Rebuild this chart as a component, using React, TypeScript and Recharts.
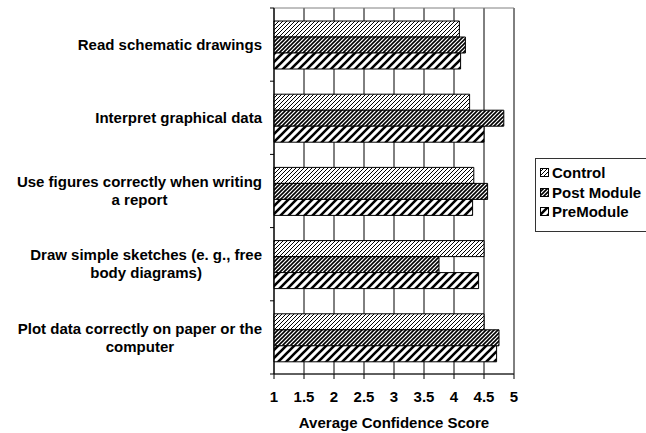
import { Bar, BarChart, CartesianGrid, Legend, ReferenceArea, XAxis, YAxis } from "recharts";

// categories top to bottom; "\n" marks where the label wraps
const CATEGORIES = [
  "Read schematic drawings",
  "Interpret graphical data",
  "Use figures correctly when writing\na report",
  "Draw simple sketches (e. g., free\nbody diagrams)",
  "Plot data correctly on paper or the\ncomputer",
];
const CONTROL = [4.09, 4.26, 4.33, 4.5, 4.5];
const POST_MODULE = [4.19, 4.83, 4.56, 3.75, 4.75];
const PRE_MODULE = [4.11, 4.5, 4.31, 4.41, 4.71];
const X_TICKS = [1, 1.5, 2, 2.5, 3, 3.5, 4, 4.5, 5];

const FONT = '"Liberation Sans", Arial, sans-serif';
const TICK_SIZE = 4;
const TICK_MARGIN = 8;
const LINE_H = 18;

const SERIES = [
  { key: "control", name: "Control", pattern: "hatchControl" },
  { key: "post", name: "Post Module", pattern: "hatchPost" },
  { key: "pre", name: "PreModule", pattern: "hatchPre" },
];

const data = CATEGORIES.map((category, i) => ({
  category,
  control: CONTROL[i],
  post: POST_MODULE[i],
  pre: PRE_MODULE[i],
}));

let ctx: CanvasRenderingContext2D | null = null;
function textWidth(s: string) {
  if (!ctx) ctx = document.createElement("canvas").getContext("2d");
  if (!ctx) return s.length * 8;
  ctx.font = `bold 15px ${FONT}`;
  return ctx.measureText(s).width;
}

function Hatch({ id, size, width }: { id: string; size: number; width: number }) {
  const s = size;
  const h = s / 2;
  return (
    <pattern id={id} patternUnits="userSpaceOnUse" width={s} height={s}>
      <rect width={s} height={s} fill="#fff" />
      <path
        d={`M${-h},${h} L${h},${-h} M0,${s} L${s},0 M${s - h},${s + h} L${s + h},${s - h}`}
        stroke="#000"
        strokeWidth={width}
      />
    </pattern>
  );
}

// Right-aligned block of centred lines, plus tick marks at the band edges
function CategoryTick(props: any) {
  const { x, y, payload, index } = props;
  const lines = String(payload.value).split("\n");
  const maxW = Math.max(...lines.map(textWidth));
  const cx = x - maxW / 2;
  const axisX = x + TICK_SIZE + TICK_MARGIN;
  const half = payload.offset ?? 36.6;
  return (
    <g>
      {lines.map((l, i) => (
        <text
          key={i}
          x={cx}
          y={y + (i - (lines.length - 1) / 2) * LINE_H}
          dy="0.35em"
          textAnchor="middle"
          fontFamily={FONT}
          fontWeight="bold"
          fontSize={15}
          fill="#000"
        >
          {l}
        </text>
      ))}
      <line x1={axisX - 4} x2={axisX} y1={y - half} y2={y - half} stroke="#000" />
      {index === CATEGORIES.length - 1 && (
        <line x1={axisX - 4} x2={axisX} y1={y + half} y2={y + half} stroke="#000" />
      )}
    </g>
  );
}

function LegendBox() {
  return (
    <div
      style={{
        border: "1px solid #333",
        background: "#fff",
        padding: "4px 0 0 4px",
        width: 130,
        height: 74,
        boxSizing: "border-box",
        fontFamily: FONT,
        fontWeight: "bold",
        fontSize: 15,
        color: "#000",
      }}
    >
      {SERIES.map((s) => (
        <div key={s.key} style={{ display: "flex", alignItems: "center", height: 19.5 }}>
          <svg width={9} height={9} style={{ marginRight: 3, flex: "none" }}>
            <rect x={0.5} y={0.5} width={8} height={8} fill={`url(#${s.pattern})`} stroke="#000" />
          </svg>
          <span style={{ whiteSpace: "nowrap" }}>{s.name}</span>
        </div>
      ))}
    </div>
  );
}

export default function App() {
  return (
    <div
      style={{
        position: "absolute",
        left: 0,
        top: 0,
        width: 646,
        height: 433,
        overflow: "hidden",
        background: "#fff",
      }}
    >
      <svg width={0} height={0} style={{ position: "absolute" }}>
        <defs>
          <Hatch id="hatchControl" size={4} width={1} />
          <Hatch id="hatchPost" size={4} width={1.6} />
          <Hatch id="hatchPre" size={8} width={2.6} />
        </defs>
      </svg>
      <BarChart
        layout="vertical"
        width={646}
        height={433}
        data={data}
        margin={{ top: 8, right: 132, bottom: 0, left: 8 }}
        barGap={0}
      >
        <CartesianGrid horizontal={false} stroke="#000" />
        <ReferenceArea x1={1} x2={5} fill="none" stroke="#808080" />
        <XAxis
          type="number"
          domain={[1, 5]}
          ticks={X_TICKS}
          interval={0}
          height={59}
          tickSize={5}
          tickMargin={12}
          axisLine={{ stroke: "#000" }}
          tickLine={{ stroke: "#000" }}
          tick={{ fill: "#000", fontSize: 15, fontWeight: "bold", fontFamily: FONT }}
          label={{
            value: "Average Confidence Score",
            position: "insideBottom",
            offset: 5,
            fill: "#000",
            fontSize: 15,
            fontWeight: "bold",
            fontFamily: FONT,
          }}
        />
        <YAxis
          type="category"
          dataKey="category"
          width={266}
          interval={0}
          tickSize={TICK_SIZE}
          tickMargin={TICK_MARGIN}
          tickLine={false}
          axisLine={{ stroke: "#000" }}
          tick={(p: any) => <CategoryTick {...p} />}
        />
        <Legend
          layout="horizontal"
          align="center"
          verticalAlign="middle"
          wrapperStyle={{ left: 535, top: 158, width: 130 }}
          content={() => <LegendBox />}
        />
        {SERIES.map((s) => (
          <Bar
            key={s.key}
            dataKey={s.key}
            name={s.name}
            fill={`url(#${s.pattern})`}
            stroke="#000"
            strokeWidth={1}
            barSize={16}
            isAnimationActive={false}
          />
        ))}
      </BarChart>
    </div>
  );
}
